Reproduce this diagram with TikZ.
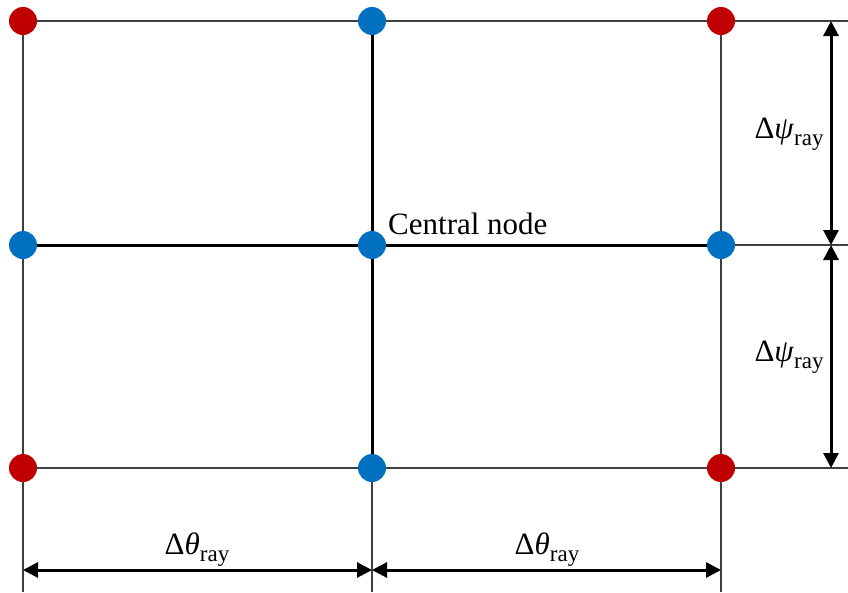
\documentclass[tikz,border=0pt]{standalone}
\usepackage{fontspec}
\setmainfont{Liberation Serif}
\usetikzlibrary{arrows.meta}
\newcommand{\raysub}{\raisebox{-0.22em}{\fontsize{23}{27}\selectfont ray}}
\begin{document}
\begin{tikzpicture}[x=1pt,y=-1pt,
  thinline/.style={draw=black!75,line width=1.2pt},
  thickline/.style={draw=black,line width=3pt},
  reddot/.style={circle,fill={rgb,255:red,192;green,0;blue,0},minimum size=28pt,inner sep=0pt},
  bluedot/.style={circle,fill={rgb,255:red,0;green,112;blue,192},minimum size=28pt,inner sep=0pt},
  dim/.style={draw=black,line width=3pt,{Triangle[length=15pt,width=15pt]}-{Triangle[length=15pt,width=15pt]}},
  lbl/.style={font=\fontsize{31}{37}\selectfont,inner sep=0pt}]
\useasboundingbox (0,0) rectangle (848,592);
% grid coordinates
\coordinate (p11) at (23,21);  \coordinate (p12) at (372,21);  \coordinate (p13) at (721,21);
\coordinate (p21) at (23,245); \coordinate (p22) at (372,245); \coordinate (p23) at (721,245);
\coordinate (p31) at (23,468); \coordinate (p32) at (372,468); \coordinate (p33) at (721,468);
\coordinate (e1) at (848,21); \coordinate (e2) at (848,245); \coordinate (e3) at (848,468);
\coordinate (f1) at (23,592); \coordinate (f2) at (372,592); \coordinate (f3) at (721,592);
% thin lines
\draw[thinline] (p11) -- (e1);
\draw[thinline] (p21) -- (e2);
\draw[thinline] (p31) -- (e3);
\draw[thinline] (p11) -- (f1);
\draw[thinline] (p12) -- (f2);
\draw[thinline] (p13) -- (f3);
% thick lines
\draw[thickline] (p21) -- (p23);
\draw[thickline] (p12) -- (p32);
% dimension arrows
\coordinate (ra) at (831,21); \coordinate (rb) at (831,245); \coordinate (rc) at (831,468);
\coordinate (ba) at (23,570); \coordinate (bb) at (372,570); \coordinate (bc) at (721,570);
\draw[dim] (ra) -- (rb);
\draw[dim] (rb) -- (rc);
\draw[dim] (ba) -- (bb);
\draw[dim] (bb) -- (bc);
% dots
\node[reddot] (n11) at (p11) {};
\node[bluedot] (n12) at (p12) {};
\node[reddot] (n13) at (p13) {};
\node[bluedot] (n21) at (p21) {};
\node[bluedot] (n22) at (p22) {};
\node[bluedot] (n23) at (p23) {};
\node[reddot] (n31) at (p31) {};
\node[bluedot] (n32) at (p32) {};
\node[reddot] (n33) at (p33) {};
% labels
\node[lbl,anchor=base west] (cn) at (388,234) {Central node};
\node[lbl] (l1) at (789,134) {Δ\textit{ψ}\raysub};
\node[lbl] (l2) at (789,357) {Δ\textit{ψ}\raysub};
\node[lbl] (l3) at (197,550) {Δ\textit{θ}\raysub};
\node[lbl] (l4) at (547,550) {Δ\textit{θ}\raysub};
\end{tikzpicture}
\end{document}
